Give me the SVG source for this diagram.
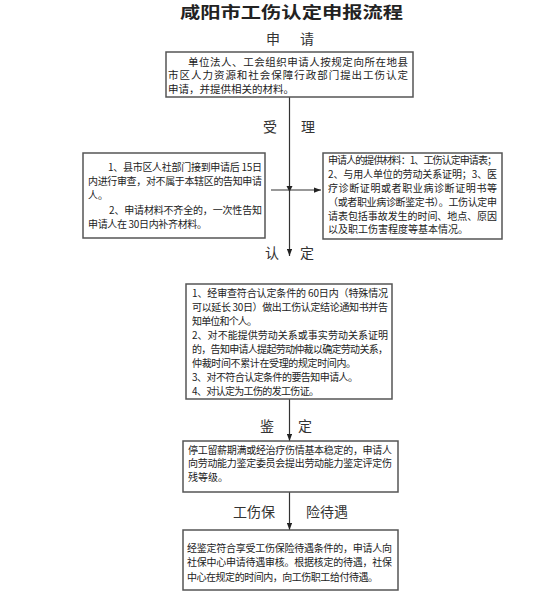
<svg xmlns="http://www.w3.org/2000/svg" width="554" height="598" viewBox="0 0 554 598">
<style>
.bg{fill:#fff}
.box{fill:#fff;stroke:#555;stroke-width:1.5}
.t{font-family:"Noto Sans CJK SC","Noto Sans",sans-serif;font-size:10px;fill:#222}
.t11{font-family:"Noto Sans CJK SC","Noto Sans",sans-serif;font-size:10.5px;fill:#222}
.lbl{font-family:"Noto Sans CJK SC","Noto Sans",sans-serif;font-size:14px;fill:#333;text-anchor:middle}
.title{font-family:"Noto Sans CJK SC","Noto Sans",sans-serif;font-size:16px;font-weight:bold;fill:#222}
.ln{stroke:#333;stroke-width:1.2;fill:none}
.ah{fill:#222}
</style>
<defs>
<marker id="arr" viewBox="0 0 8 6" refX="8" refY="3" markerWidth="7" markerHeight="5.5" markerUnits="userSpaceOnUse" orient="auto">
<path d="M0,0 L8,3 L0,6 Z" class="ah"/>
</marker>
</defs>
<rect class="bg" x="0" y="0" width="554" height="598"/>

<text class="title" x="180" y="18" textLength="223" lengthAdjust="spacingAndGlyphs">咸阳市工伤认定申报流程</text>

<g id="labels">
<text class="lbl" x="273" y="44">申</text><text class="lbl" x="307" y="44">请</text>
<text class="lbl" x="270" y="132">受</text><text class="lbl" x="308" y="132">理</text>
<text class="lbl" x="272" y="258">认</text><text class="lbl" x="307" y="258">定</text>
<text class="lbl" x="267" y="431">鉴</text><text class="lbl" x="305" y="431">定</text>
<text class="lbl" x="254" y="517">工伤保</text><text class="lbl" x="327" y="517">险待遇</text>
</g>

<g id="connectors">
<line class="ln" x1="289.5" y1="97" x2="289.5" y2="256" marker-end="url(#arr)"/>
<polygon class="ah" points="286.5,186 292.5,186 289.5,192"/>
<line class="ln" x1="271" y1="190" x2="321" y2="190" marker-end="url(#arr)"/>
<line class="ln" x1="289.5" y1="399" x2="289.5" y2="441" marker-end="url(#arr)"/>
<line class="ln" x1="289.5" y1="492" x2="289.5" y2="530" marker-end="url(#arr)"/>
</g>

<g id="node-apply">
<rect class="box" x="166" y="52" width="247" height="45"/>
<text class="t11" x="188" y="65.5" textLength="220">单位法人、工会组织申请人按规定向所在地县</text>
<text class="t11" x="168" y="79" textLength="240">市区人力资源和社会保障行政部门提出工伤认定</text>
<text class="t11" x="168" y="92.5">申请，并提供相关的材料。</text>
</g>

<g id="node-review">
<rect class="box" x="83" y="153" width="182" height="85"/>
<text class="t" x="108" y="171" textLength="154">1、县市区人社部门接到申请后 15日</text>
<text class="t" x="88" y="184.5" textLength="174">内进行审查，对不属于本辖区的告知申请</text>
<text class="t" x="88" y="199">人。</text>
<text class="t" x="109" y="213.5" textLength="153">2、申请材料不齐全的，一次性告知</text>
<text class="t" x="88" y="228" textLength="119">申请人在 30日内补齐材料。</text>
</g>

<g id="node-materials">
<rect class="box" x="323" y="153" width="179" height="86"/>
<text class="t" x="328" y="163.5" textLength="169">申请人的提供材料：1、工伤认定申请表；</text>
<text class="t" x="328" y="177.5" textLength="169">2、与用人单位的劳动关系证明；3、医</text>
<text class="t" x="328" y="191.5" textLength="169">疗诊断证明或者职业病诊断证明书等</text>
<text class="t" x="328" y="205.5" textLength="169">（或者职业病诊断鉴定书）。工伤认定申</text>
<text class="t" x="328" y="219.5" textLength="169">请表包括事故发生的时间、地点、原因</text>
<text class="t" x="328" y="233">以及职工伤害程度等基本情况。</text>
</g>

<g id="node-decide">
<rect class="box" x="186" y="284" width="206" height="115"/>
<text class="t" x="192" y="296.5" textLength="196">1、经审查符合认定条件的 60日内（特殊情况</text>
<text class="t" x="192" y="310.5" textLength="196">可以延长 30日）做出工伤认定结论通知书并告</text>
<text class="t" x="192" y="324.5" textLength="65">知单位和个人。</text>
<text class="t" x="192" y="338.5" textLength="196">2、对不能提供劳动关系或事实劳动关系证明</text>
<text class="t" x="192" y="352.5" textLength="196">的，告知申请人提起劳动仲裁以确定劳动关系，</text>
<text class="t" x="192" y="367" textLength="164">仲裁时间不累计在受理的规定时间内。</text>
<text class="t" x="192" y="381" textLength="166">3、对不符合认定条件的要告知申请人。</text>
<text class="t" x="192" y="395" textLength="127">4、对认定为工伤的发工伤证。</text>
</g>

<g id="node-appraise">
<rect class="box" x="183" y="441" width="215" height="51"/>
<text class="t" x="188" y="453.5" textLength="204">停工留薪期满或经治疗伤情基本稳定的，申请人</text>
<text class="t" x="188" y="467" textLength="204">向劳动能力鉴定委员会提出劳动能力鉴定评定伤</text>
<text class="t" x="188" y="480.5">残等级。</text>
</g>

<g id="node-benefit">
<rect class="box" x="183" y="530" width="215" height="60"/>
<text class="t" x="187" y="551.5" textLength="205">经鉴定符合享受工伤保险待遇条件的，申请人向</text>
<text class="t" x="187" y="565.5" textLength="205">社保中心申请待遇审核。根据核定的待遇，社保</text>
<text class="t" x="187" y="580.5" textLength="191">中心在规定的时间内，向工伤职工给付待遇。</text>
</g>
</svg>
